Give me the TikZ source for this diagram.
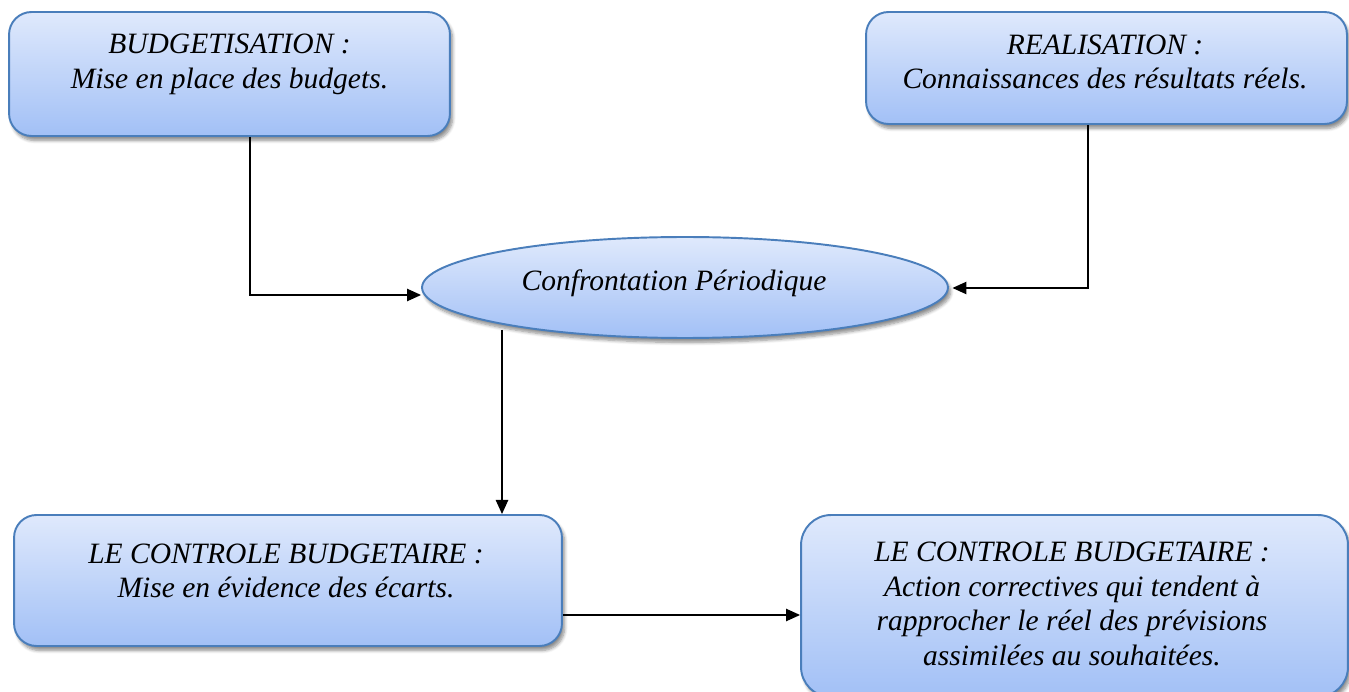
\documentclass[tikz,border=0pt]{standalone}
\usepackage{fontspec}
\setmainfont{Liberation Serif}
\usetikzlibrary{arrows.meta,shapes.geometric,shadows.blur}

\definecolor{boxtop}{HTML}{DFE9FC}
\definecolor{boxbot}{HTML}{A2C0F6}
\definecolor{boxline}{HTML}{4A7EBB}

\tikzset{
  panel/.style={draw=boxline, line width=1.1pt, top color=boxtop, bottom color=boxbot,
    rounded corners=0.45cm, inner sep=0pt,
    blur shadow={shadow xshift=1.5pt, shadow yshift=-2.5pt, shadow blur steps=6, shadow opacity=45}},
  oval/.style={ellipse, draw=boxline, line width=1.1pt, top color=boxtop, bottom color=boxbot,
    inner sep=0pt,
    blur shadow={shadow xshift=1.5pt, shadow yshift=-2.5pt, shadow blur steps=6, shadow opacity=45}},
  caption/.style={align=center, inner sep=0pt,
    font=\fontsize{16.8}{19.8}\selectfont\itshape},
  link/.style={line width=0.9pt, -{Triangle[length=8pt,width=7pt]}}
}

\begin{document}
\begin{tikzpicture}[x=0.02cm, y=-0.02cm]
  \useasboundingbox (0,0) rectangle (1349,692);

  % process boxes
  \node[panel, minimum width=8.82cm, minimum height=2.48cm] (b1) at (229.5,74) {};
  \node[panel, minimum width=9.62cm, minimum height=2.24cm] (b2) at (1106.5,68) {};
  \node[oval, minimum width=10.52cm, minimum height=2.02cm] (e) at (685,287.5) {};
  \node[panel, minimum width=10.96cm, minimum height=2.62cm] (b4) at (288,580.5) {};
  \node[panel, rounded corners=0.6cm, minimum width=10.94cm, minimum height=3.64cm] (b5) at (1074.5,606) {};

  % labels
  \node[caption] (t1) at (229.5,64) {BUDGETISATION :\\Mise en place des budgets.};
  \node[caption] (t2) at (1105,62) {REALISATION :\\Connaissances des résultats réels.};
  \node[caption] (te) at (674,283) {Confrontation Périodique};
  \node[caption] (t4) at (286,571) {LE CONTROLE BUDGETAIRE :\\Mise en évidence des écarts.};
  \node[caption] (t5) at (1072,604) {LE CONTROLE BUDGETAIRE :\\Action correctives qui tendent à\\rapprocher le réel des prévisions\\assimilées au souhaitées.};

  % bends of the connectors
  \coordinate (p1) at (250,295);
  \coordinate (p2) at (1088,288);
  \coordinate (p3) at (600,615);
  \coordinate (p4) at (502,330);

  % connectors
  \draw[link] (b1.south -| p1) -- (p1) -- (p1 -| e.west);
  \draw[link] (b2.south -| p2) -- (p2) -- ([xshift=2pt]p2 -| e.east);
  \draw[link] (p4) -- (p4 |- b4.north);
  \draw[link] (b4.east |- p3) -- (b5.west |- p3);
\end{tikzpicture}
\end{document}
